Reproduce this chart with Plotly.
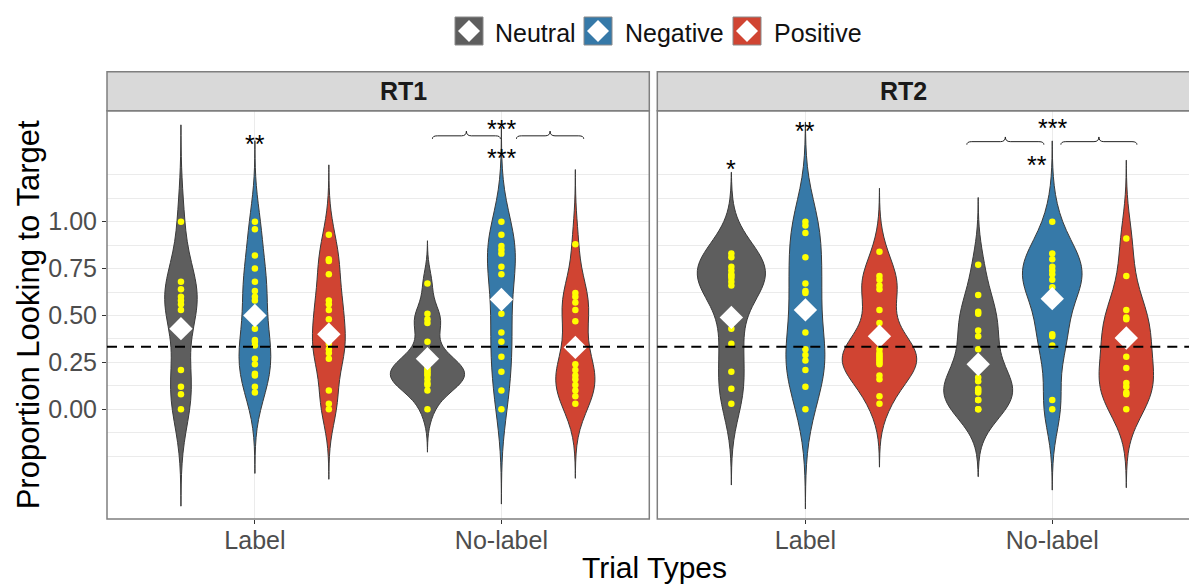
import numpy as np
import plotly.graph_objects as go

# ---------------- data ----------------
panels = ["RT1", "RT2"]
trial_types = ["Label", "No-label"]
emotions = ["Neutral", "Negative", "Positive"]
colors = ["#5E5E5E", "#3679A8", "#D04432"]

rt1_label_neutral = [1.00, 0.68, 0.64, 0.60, 0.58, 0.56, 0.53, 0.21, 0.12, 0.08, 0.00]
rt1_label_negative = [1.00, 0.96, 0.82, 0.75, 0.68, 0.63, 0.60, 0.58, 0.43, 0.37, 0.36, 0.34, 0.27, 0.24, 0.19, 0.18, 0.12, 0.09]
rt1_label_positive = [0.93, 0.80, 0.79, 0.72, 0.58, 0.56, 0.53, 0.48, 0.37, 0.35, 0.32, 0.30, 0.27, 0.10, 0.03, 0.00]
rt1_nolabel_neutral = [0.67, 0.51, 0.48, 0.46, 0.36, 0.27, 0.25, 0.22, 0.21, 0.20, 0.19, 0.18, 0.16, 0.14, 0.13, 0.10, 0.00]
rt1_nolabel_negative = [1.00, 0.93, 0.87, 0.85, 0.83, 0.76, 0.72, 0.60, 0.51, 0.41, 0.36, 0.28, 0.20, 0.10, 0.00]
rt1_nolabel_positive = [0.88, 0.62, 0.60, 0.57, 0.53, 0.47, 0.34, 0.24, 0.21, 0.18, 0.16, 0.13, 0.10, 0.07, 0.03]

rt2_label_neutral = [0.83, 0.81, 0.76, 0.74, 0.72, 0.71, 0.70, 0.68, 0.66, 0.43, 0.35, 0.20, 0.11, 0.03]
rt2_label_negative = [1.00, 0.98, 0.94, 0.81, 0.67, 0.63, 0.62, 0.41, 0.32, 0.29, 0.26, 0.21, 0.12, 0.00]
rt2_label_positive = [0.84, 0.71, 0.69, 0.66, 0.64, 0.53, 0.46, 0.38, 0.32, 0.30, 0.29, 0.28, 0.27, 0.26, 0.25, 0.24, 0.18, 0.16, 0.07, 0.03]
rt2_nolabel_neutral = [0.77, 0.61, 0.52, 0.51, 0.42, 0.39, 0.32, 0.25, 0.17, 0.15, 0.11, 0.10, 0.09, 0.05, 0.05, 0.00, 0.00]
rt2_nolabel_negative = [1.00, 0.83, 0.80, 0.76, 0.74, 0.72, 0.69, 0.65, 0.60, 0.40, 0.39, 0.34, 0.05, 0.00]
rt2_nolabel_positive = [0.91, 0.71, 0.53, 0.49, 0.48, 0.40, 0.35, 0.28, 0.22, 0.14, 0.12, 0.09, 0.08, 0.00]

# means (white diamonds), order Neutral, Negative, Positive
rt1_label_means = [0.43, 0.50, 0.40]
rt1_nolabel_means = [0.27, 0.585, 0.33]
rt2_label_means = [0.49, 0.53, 0.39]
rt2_nolabel_means = [0.24, 0.59, 0.38]

chance_level = 1 / 3
y_tick_vals = [0.00, 0.25, 0.50, 0.75, 1.00]
y_tick_text = ["0.00", "0.25", "0.50", "0.75", "1.00"]

# significance stars: (panel, x, y, text)
stars = [
    ("RT1", 1.00, 1.446, "**"),
    ("RT1", 2.00, 1.525, "***"),
    ("RT1", 2.00, 1.373, "***"),
    ("RT2", 0.70, 1.311, "*"),
    ("RT2", 1.00, 1.516, "**"),
    ("RT2", 2.00, 1.533, "***"),
    ("RT2", 1.937, 1.332, "**"),
]
# brackets: (panel, x0, x1, y)
brackets = [
    ("RT1", 1.72, 1.996, 1.458),
    ("RT1", 2.061, 2.334, 1.458),
    ("RT2", 1.654, 1.966, 1.427),
    ("RT2", 2.035, 2.343, 1.427),
]

data = {
    ("RT1", "Label"): [rt1_label_neutral, rt1_label_negative, rt1_label_positive],
    ("RT1", "No-label"): [rt1_nolabel_neutral, rt1_nolabel_negative, rt1_nolabel_positive],
    ("RT2", "Label"): [rt2_label_neutral, rt2_label_negative, rt2_label_positive],
    ("RT2", "No-label"): [rt2_nolabel_neutral, rt2_nolabel_negative, rt2_nolabel_positive],
}
means = {
    ("RT1", "Label"): rt1_label_means,
    ("RT1", "No-label"): rt1_nolabel_means,
    ("RT2", "Label"): rt2_label_means,
    ("RT2", "No-label"): rt2_nolabel_means,
}

# ---------------- layout geometry (pixels) ----------------
W, H = 1189, 586
L, R, T, B = 107, 1189, 72, 519
def px2x(px):
    return (px - L) / (R - L)
def py2y(py):
    return (B - py) / (B - T)

left_dom = [0.0, px2x(649.3)]
right_dom = [px2x(657.3), 1.0]
panel_top = py2y(110.7)
strip_top = py2y(71.7)

dodge = [-0.3, 0.0, 0.3]
VIOLIN_WIDTH = 0.3
FONT = "Liberation Sans, Arial, sans-serif"

def nrd0(v):
    v = np.asarray(v, float)
    sd = v.std(ddof=1)
    iqr = np.subtract(*np.percentile(v, [75, 25]))
    lo = min(sd, iqr / 1.34) if iqr > 0 else sd
    return 0.9 * lo * len(v) ** (-0.2)

def kde_peak(v, bw):
    v = np.asarray(v, float)
    t = np.linspace(v.min() - 3 * bw, v.max() + 3 * bw, 512)
    d = np.exp(-0.5 * ((t[:, None] - v[None, :]) / bw) ** 2).sum(1)
    return d.max() / (len(v) * bw * np.sqrt(2 * np.pi))

fig = go.Figure()
axis_of = {"RT1": ("x", "y"), "RT2": ("x2", "y2")}

for panel in panels:
    xa, ya = axis_of[panel]
    # ggplot-like "area" scaling within each panel
    peaks = {}
    for tt in trial_types:
        for ei in range(3):
            vals = data[(panel, tt)][ei]
            peaks[(tt, ei)] = kde_peak(vals, nrd0(vals))
    pmax = max(peaks.values())
    for ti, tt in enumerate(trial_types):
        for ei, emo in enumerate(emotions):
            vals = data[(panel, tt)][ei]
            bw = nrd0(vals)
            fig.add_trace(go.Violin(
                x0=ti + 1 + dodge[ei], y=vals, xaxis=xa, yaxis=ya,
                width=VIOLIN_WIDTH * peaks[(tt, ei)] / pmax, scalemode="width",
                bandwidth=bw, spanmode="manual",
                span=[min(vals) - 3 * bw, max(vals) + 3 * bw],
                fillcolor=colors[ei], opacity=1,
                line=dict(color="#3A3A3A", width=1),
                points="all", pointpos=0, jitter=0,
                marker=dict(color="#FFFF00", size=6.5, line=dict(width=0)),
                showlegend=False, name=emo, hoveron="violins+points",
            ))
    xs, ys = [], []
    for ti, tt in enumerate(trial_types):
        for ei in range(3):
            xs.append(ti + 1 + dodge[ei])
            ys.append(means[(panel, tt)][ei])
    fig.add_trace(go.Scatter(
        x=xs, y=ys, xaxis=xa, yaxis=ya, mode="markers",
        marker=dict(symbol="diamond", size=18, color="white", line=dict(width=0)),
        showlegend=False, hoverinfo="y",
    ))

shapes = []
annotations = []

# panel borders and strips
for dom in [left_dom, [right_dom[0], 1.02]]:
    shapes.append(dict(type="rect", xref="paper", yref="paper", x0=dom[0], x1=dom[1],
                       y0=panel_top, y1=strip_top, fillcolor="#D9D9D9",
                       line=dict(color="#7F7F7F", width=1.5), layer="above"))
    shapes.append(dict(type="rect", xref="paper", yref="paper", x0=dom[0], x1=dom[1],
                       y0=0, y1=panel_top, fillcolor="rgba(0,0,0,0)",
                       line=dict(color="#7F7F7F", width=1.5), layer="above"))
annotations.append(dict(text="<b>RT1</b>", xref="paper", yref="paper",
                        x=(left_dom[0] + left_dom[1]) / 2, y=(panel_top + strip_top) / 2,
                        showarrow=False, font=dict(size=25, color="#1A1A1A"), yanchor="middle"))
annotations.append(dict(text="<b>RT2</b>", xref="paper", yref="paper",
                        x=px2x(928.6), y=(panel_top + strip_top) / 2,
                        showarrow=False, font=dict(size=25, color="#1A1A1A"), yanchor="middle"))

# chance line
for xa, ya, x1 in [("x", "y", 1), ("x2", "y2", 1.05)]:
    shapes.append(dict(type="line", xref=xa + " domain", yref=ya, x0=0, x1=x1,
                       y0=chance_level, y1=chance_level,
                       line=dict(color="black", width=2, dash="10px,7px"), layer="above"))

# brackets
for panel, x0, x1, y in brackets:
    xa, ya = axis_of[panel]
    xm = (x0 + x1) / 2
    dx = 0.02
    hook = 0.016
    tip = 0.025
    path = (f"M {x0},{y - hook} Q {x0},{y} {x0 + dx},{y} L {xm - dx},{y} "
            f"Q {xm},{y} {xm},{y + tip} Q {xm},{y} {xm + dx},{y} L {x1 - dx},{y} "
            f"Q {x1},{y} {x1},{y - hook}")
    shapes.append(dict(type="path", xref=xa, yref=ya, path=path,
                       line=dict(color="#222222", width=1), layer="above"))

# stars
for panel, x, y, txt in stars:
    xa, ya = axis_of[panel]
    annotations.append(dict(text=txt, xref=xa, yref=ya, x=x, y=y, showarrow=False,
                            yshift=-6, font=dict(size=25, color="black")))

# legend (manual, ggplot style keys)
key_left = [455, 584, 733]
text_left = [493, 623, 772]
key_top, key_bot = 17, 45
for i, emo in enumerate(emotions):
    kx0, kx1 = key_left[i], key_left[i] + 28
    shapes.append(dict(type="rect", xref="paper", yref="paper",
                       x0=px2x(kx0), x1=px2x(kx1), y0=py2y(key_bot), y1=py2y(key_top),
                       fillcolor=colors[i], line=dict(color="#8A8A8A", width=1)))
    cx, cy, r = (kx0 + kx1) / 2, (key_top + key_bot) / 2, 11
    path = (f"M {px2x(cx - r)},{py2y(cy)} L {px2x(cx)},{py2y(cy - r)} "
            f"L {px2x(cx + r)},{py2y(cy)} L {px2x(cx)},{py2y(cy + r)} Z")
    shapes.append(dict(type="path", xref="paper", yref="paper", path=path,
                       fillcolor="white", line=dict(width=0)))
    annotations.append(dict(text=emo, xref="paper", yref="paper", x=px2x(text_left[i]),
                            y=py2y(cy + 2), xanchor="left", yanchor="middle", showarrow=False,
                            font=dict(size=25, color="#111111")))

# axis titles
annotations.append(dict(text="Proportion Looking to Target", xref="paper", yref="paper",
                        x=px2x(28.5), y=panel_top / 2, textangle=-90, showarrow=False,
                        xanchor="center", yanchor="middle", font=dict(size=31, color="black")))
annotations.append(dict(text="Trial Types", xref="paper", yref="paper",
                        x=px2x(654), y=py2y(567), showarrow=False,
                        xanchor="center", yanchor="middle", font=dict(size=30, color="black")))

minor_vals = [-0.25, -0.125, 0.125, 0.375, 0.625, 0.875, 1.125, 1.25]
xaxis_common = dict(tickvals=[1, 2], ticktext=trial_types, ticks="outside", ticklen=4,
                    tickcolor="#333333", tickwidth=1.2, tickfont=dict(size=25, color="#4D4D4D"),
                    ticklabelstandoff=-5,
                    showgrid=True, gridcolor="#EBEBEB", gridwidth=1, zeroline=False,
                    showline=False)
yaxis_common = dict(range=[-0.585, 1.592], domain=[0, panel_top], tickvals=y_tick_vals,
                    showgrid=True, gridcolor="#EBEBEB", gridwidth=1, zeroline=False,
                    showline=False,
                    minor=dict(tickvals=minor_vals, showgrid=True, gridcolor="#EBEBEB",
                               gridwidth=1, ticks=""))

fig.update_layout(
    width=W, height=H,
    margin=dict(l=L, r=W - R, t=T, b=H - B),
    paper_bgcolor="white", plot_bgcolor="white",
    font=dict(family=FONT),
    violinmode="overlay",
    showlegend=False,
    xaxis=dict(domain=left_dom, range=[0.4, 2.6], anchor="y", **xaxis_common),
    xaxis2=dict(domain=right_dom, range=[0.4, 2.554], anchor="y2", **xaxis_common),
    yaxis=dict(anchor="x", ticktext=y_tick_text, ticks="outside", ticklen=4,
               tickcolor="#333333", tickwidth=1.2,
               tickfont=dict(size=25, color="#4D4D4D"), **yaxis_common),
    yaxis2=dict(anchor="x2", matches="y", showticklabels=False, ticks="", **yaxis_common),
    shapes=shapes,
    annotations=annotations,
)

fig.write_html("out.html")
